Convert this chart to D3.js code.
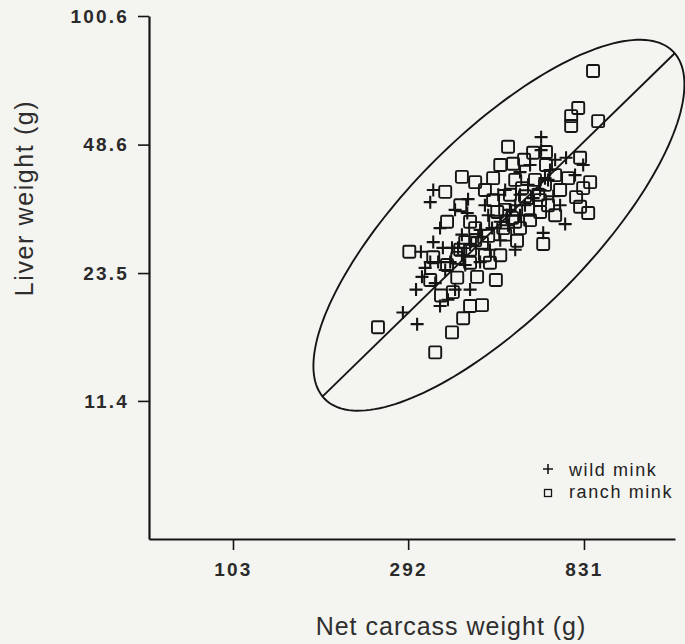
<!DOCTYPE html>
<html>
<head>
<meta charset="utf-8" />
<title>Liver weight vs net carcass weight</title>
<script src="https://d3js.org/d3.v7.min.js"></script>
<style>
  body { margin: 0; background: #f4f4f0; }
  svg { display: block; }
</style>
</head>
<body>
<svg></svg>
<script>
// ticks
const xTicks = [103, 292, 831]
const yTicks = [11.4, 23.5, 48.6, 100.6]

// ranch mink: net carcass weight (g), liver weight (g)
const ranchCarcass = [877, 803, 770, 770, 904, 529, 614, 663, 545, 663, 812, 402, 435, 484, 552, 862, 364,
  793, 852, 812, 652, 484, 368, 435, 558, 294, 339, 398, 453, 475, 391, 440, 333, 492, 355, 453, 422,
  244, 379, 343, 700, 621, 585, 520, 552, 603, 671, 490, 422, 410, 520, 381, 422, 505, 721, 582, 505,
  535, 640, 398, 461, 368, 405, 568, 633, 700, 756, 827,
  470, 542, 596, 640, 514, 422, 391, 575, 659, 496, 435, 461]
const ranchLiver = [73.7, 59.8, 57.1, 54.0, 55.5, 48.0, 46.4, 46.6, 43.6, 43.3, 45.1, 40.5, 39.3, 40.2, 39.8, 39.3, 37.2,
  36.1, 33.0, 34.2, 27.7, 35.5, 31.4, 30.3, 28.2, 26.5, 25.7, 26.8, 27.9, 24.9, 22.9, 23.0, 22.6, 22.6, 20.7, 19.6, 19.5,
  17.3, 16.8, 15.0, 40.9, 39.8, 36.3, 33.6, 31.4, 31.7, 34.5, 31.4, 31.4, 28.0, 29.2, 21.1, 24.9, 26.0, 37.6, 44.6, 43.3,
  36.6, 33.2, 34.5, 37.6, 24.6, 18.2, 30.3, 36.6, 32.6, 40.2, 38.0,
  29.0, 32.1, 33.6, 35.5, 30.3, 26.8, 25.6, 38.0, 38.7, 33.2, 28.3, 26.0]

// wild mink
const wildCarcass = [644, 644, 339, 333, 417, 743, 652, 415, 448, 339, 359, 317, 306, 353, 283, 308, 700, 747,
  568, 596, 520, 640, 692, 499, 461, 535, 585, 386, 505, 568, 402, 422, 505, 475, 375, 410, 364, 422,
  386, 370, 333, 323, 343, 788, 721, 603, 552, 448, 393, 353, 529, 671, 827, 349, 470, 315,
  443, 481, 552, 614, 659, 402, 379, 526, 568, 679]
const wildLiver = [50.7, 47.1, 37.6, 35.1, 35.7, 31.0, 29.5, 33.0, 30.0, 28.0, 27.1, 23.0, 21.4, 19.5, 18.8, 17.6, 44.6, 45.1,
  41.6, 38.7, 37.6, 37.6, 36.3, 36.6, 34.5, 33.6, 34.5, 33.6, 31.4, 32.6, 29.2, 27.6, 28.3, 26.8, 25.0, 24.6, 23.9, 21.4,
  21.4, 20.2, 25.0, 24.2, 22.2, 40.9, 34.5, 43.3, 26.8, 25.0, 27.1, 30.3, 30.8, 39.8, 43.3, 25.0, 32.6, 26.5,
  28.8, 30.3, 34.5, 35.9, 40.2, 26.0, 27.1, 32.6, 36.6, 42.1]

// regression line ends and ellipse (log scale: centre, sd of ln values, correlation)
const lineCarcass = [175, 1428]
const lineLiver = [11.66, 81.6]
const ellCentre = [501, 30.8]
const ellSd = [1.1035, 1.0492]
const ellR = 0.759

const legendLabels = ['wild mink', 'ranch mink']

const W = 685, H = 644
const ink = '#151515'

const svg = d3.select('svg').attr('width', W).attr('height', H)
svg.append('rect').attr('width', W).attr('height', H).attr('fill', '#f4f4f0')

const x = d3.scaleLog().domain([62.5, 1428]).range([149, 675])
const y = d3.scaleLog().domain([5.22, 100.6]).range([539, 16])

// ellipse
const ellPts = d3.range(0, 361, 2).map(a => {
  const t = a * Math.PI / 180
  const lx = Math.log(ellCentre[0]) + ellSd[0] * Math.cos(t)
  const ly = Math.log(ellCentre[1]) + ellSd[1] * (ellR * Math.cos(t) + Math.sqrt(1 - ellR * ellR) * Math.sin(t))
  return [x(Math.exp(lx)), y(Math.exp(ly))]
})
svg.append('path')
  .attr('d', d3.line().curve(d3.curveLinearClosed)(ellPts))
  .attr('fill', 'none').attr('stroke', ink).attr('stroke-width', 1.9)

svg.append('line')
  .attr('x1', x(lineCarcass[0])).attr('y1', y(lineLiver[0]))
  .attr('x2', x(lineCarcass[1])).attr('y2', y(lineLiver[1]))
  .attr('stroke', ink).attr('stroke-width', 1.9)

// points
svg.append('g').selectAll('rect')
  .data(ranchCarcass)
  .join('rect')
  .attr('x', (d, i) => x(d) - 6)
  .attr('y', (d, i) => y(ranchLiver[i]) - 6)
  .attr('width', 12).attr('height', 12).attr('rx', 1.5)
  .attr('fill', 'none').attr('stroke', ink).attr('stroke-width', 1.9)

const plus = (cx, cy, r) => `M${cx - r},${cy}H${cx + r}M${cx},${cy - r}V${cy + r}`
svg.append('g').selectAll('path')
  .data(wildCarcass)
  .join('path')
  .attr('d', (d, i) => plus(x(d), y(wildLiver[i]), 6.5))
  .attr('fill', 'none').attr('stroke', ink).attr('stroke-width', 2.1)

// axes
const xAxis = svg.append('g')
  .attr('transform', 'translate(0,539)')
  .call(d3.axisBottom(x).tickValues(xTicks).tickFormat(d3.format('d')).tickSize(11).tickSizeOuter(0).tickPadding(13))
const yAxis = svg.append('g')
  .attr('transform', 'translate(149,0)')
  .call(d3.axisLeft(y).tickValues(yTicks).tickFormat(d3.format('.1f')).tickSize(11).tickSizeOuter(0).tickPadding(9))

for (const ax of [xAxis, yAxis]) {
  ax.select('.domain').attr('stroke', ink).attr('stroke-width', 2.2)
  ax.selectAll('.tick line').attr('stroke', ink).attr('stroke-width', 1.6)
  ax.selectAll('.tick text')
    .attr('fill', '#2a2a2a')
    .style('font-family', '"Liberation Sans", Arial, sans-serif')
    .style('font-size', '19px').style('font-weight', 'bold').style('letter-spacing', '2.2px')
}

svg.append('text')
  .attr('x', 451).attr('y', 635)
  .attr('text-anchor', 'middle')
  .style('font-family', '"Liberation Sans", Arial, sans-serif')
  .style('font-size', '25px').style('letter-spacing', '1px')
  .attr('fill', '#2e2e2e')
  .text('Net carcass weight (g)')

svg.append('text')
  .attr('transform', 'translate(33,198) rotate(-90)')
  .attr('text-anchor', 'middle')
  .style('font-family', '"Liberation Sans", Arial, sans-serif')
  .style('font-size', '25px').style('letter-spacing', '1.6px')
  .attr('fill', '#2e2e2e')
  .text('Liver weight (g)')

// legend
const leg = svg.append('g')
leg.append('path').attr('d', plus(548, 469, 5)).attr('stroke', ink).attr('stroke-width', 1.6)
leg.append('rect').attr('x', 544.5).attr('y', 489.5).attr('width', 7).attr('height', 7)
  .attr('fill', 'none').attr('stroke', ink).attr('stroke-width', 1.3)
leg.selectAll('text')
  .data(legendLabels)
  .join('text')
  .attr('x', 569).attr('y', (d, i) => 476 + i * 22)
  .style('font-family', '"Liberation Sans", Arial, sans-serif')
  .style('font-size', '18px').style('letter-spacing', '1.6px')
  .attr('fill', '#222')
  .text(d => d)
</script>
</body>
</html>
